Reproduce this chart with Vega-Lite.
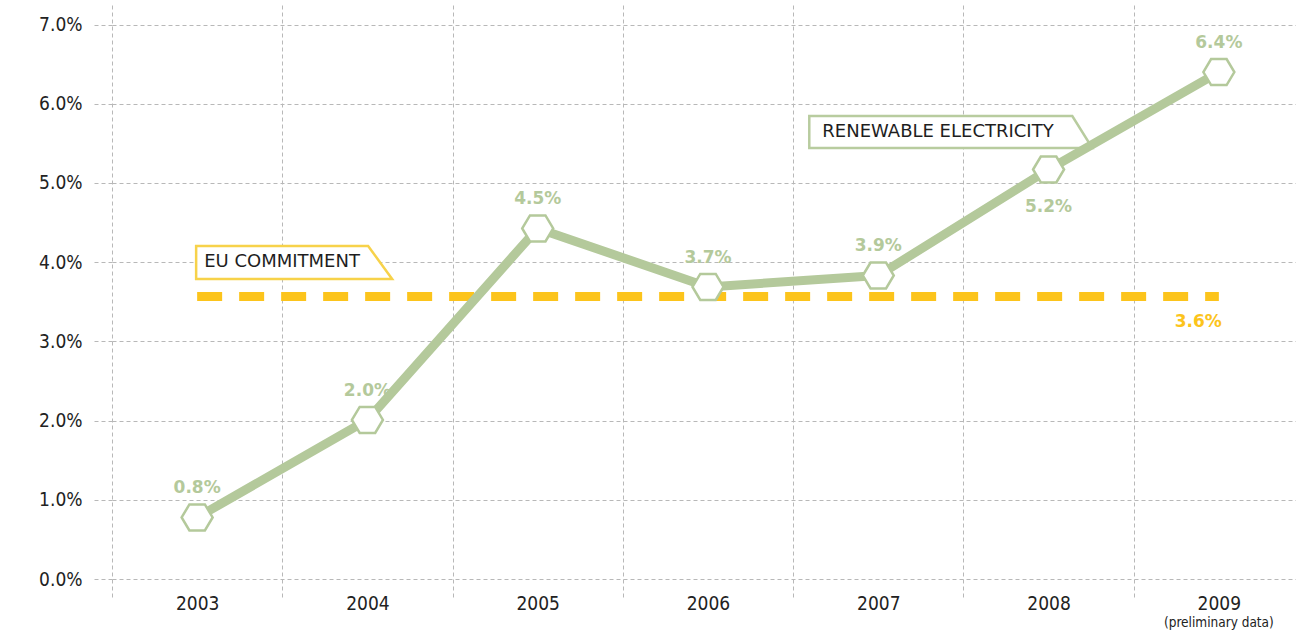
{
  "$schema": "https://vega.github.io/schema/vega-lite/v6.json",
  "width": 1184,
  "height": 574,
  "autosize": {"type": "none"},
  "padding": {"left": 112, "top": 5, "right": 0, "bottom": 54},
  "background": "white",
  "datasets": {
    "series": [
      {"year": "2003", "value": 0.777, "label": "0.8%"},
      {"year": "2004", "value": 2.008, "label": "2.0%"},
      {"year": "2005", "value": 4.426, "label": "4.5%"},
      {"year": "2006", "value": 3.687, "label": "3.7%"},
      {"year": "2007", "value": 3.832, "label": "3.9%"},
      {"year": "2008", "value": 5.17, "label": "5.2%"},
      {"year": "2009", "value": 6.4, "label": "6.4%"}
    ],
    "commitment": [
      {"year": "2003", "value": 3.567, "label": "3.6%"},
      {"year": "2009", "value": 3.567, "label": "3.6%"}
    ],
    "notes": [
      {"year": "2009", "value": 0, "label": "(preliminary data)"}
    ]
  },
  "data": {"name": "series"},
  "encoding": {
    "x": {
      "field": "year",
      "type": "nominal",
      "sort": "ascending",
      "scale": {"type": "band", "range": [0, 1192], "paddingInner": 0, "paddingOuter": 0},
      "axis": {
        "title": null,
        "tickBand": "extent",
        "grid": true,
        "gridDash": [4, 3],
        "gridColor": "#b8b8b8",
        "ticks": true,
        "tickSize": 18,
        "tickDash": [4, 3],
        "tickColor": "#b8b8b8",
        "domain": false,
        "labelAngle": 0,
        "labelFont": "DejaVu Sans Condensed, DejaVu Sans, sans-serif",
        "labelFontSize": 19,
        "labelColor": "#222222",
        "labelPadding": -3
      }
    },
    "y": {
      "field": "value",
      "type": "quantitative",
      "scale": {"domain": [0, 7.247], "nice": false, "zero": true},
      "axis": {
        "title": null,
        "values": [0, 1, 2, 3, 4, 5, 6, 7],
        "labelExpr": "format(datum.value, '.1f') + '%'",
        "grid": true,
        "gridDash": [4, 3],
        "gridColor": "#b8b8b8",
        "ticks": true,
        "tickSize": 19,
        "tickDash": [4, 3],
        "tickColor": "#b8b8b8",
        "domain": false,
        "labelFont": "DejaVu Sans Condensed, DejaVu Sans, sans-serif",
        "labelFontSize": 19,
        "labelColor": "#222222",
        "labelPadding": 11
      }
    }
  },
  "layer": [
    {
      "data": {"values": [{"year": "2003", "value": 3.996, "label": "EU COMMITMENT"}]},
      "mark": {
        "type": "point",
        "shape": "M-1,-16.5L171,-16.5L195,16.5L-1,16.5Z",
        "size": 4,
        "filled": false,
        "fill": "white",
        "fillOpacity": 1,
        "stroke": "#f7d24a",
        "strokeWidth": 2.5,
        "strokeJoin": "miter",
        "opacity": 1
      }
    },
    {
      "data": {"values": [{"year": "2003", "value": 3.996, "label": "EU COMMITMENT"}]},
      "mark": {
        "type": "text",
        "align": "left",
        "baseline": "middle",
        "dx": 7,
        "font": "DejaVu Sans, sans-serif",
        "fontSize": 18,
        "color": "#1e1e1e"
      },
      "encoding": {"text": {"field": "label"}}
    },
    {
      "data": {"values": [{"year": "2007", "value": 5.644, "label": "RENEWABLE ELECTRICITY"}]},
      "mark": {
        "type": "point",
        "shape": "M-69,-16L194,-16L214,16L-69,16Z",
        "size": 4,
        "filled": false,
        "fill": "white",
        "fillOpacity": 1,
        "stroke": "#b8cc9f",
        "strokeWidth": 2.5,
        "strokeJoin": "miter",
        "opacity": 1
      }
    },
    {
      "data": {"values": [{"year": "2007", "value": 5.644, "label": "RENEWABLE ELECTRICITY"}]},
      "mark": {
        "type": "text",
        "align": "left",
        "baseline": "middle",
        "dx": -56,
        "font": "DejaVu Sans, sans-serif",
        "fontSize": 18,
        "color": "#1e1e1e"
      },
      "encoding": {"text": {"field": "label"}}
    },
    {
      "data": {"name": "commitment"},
      "mark": {
        "type": "line",
        "color": "#fcc41c",
        "strokeWidth": 9,
        "strokeDash": [25, 17],
        "strokeCap": "butt"
      },
      "encoding": {}
    },
    {
      "mark": {
        "type": "line",
        "color": "#b4c99b",
        "strokeWidth": 9,
        "strokeCap": "butt",
        "strokeJoin": "round"
      },
      "encoding": {}
    },
    {
      "mark": {
        "type": "point",
        "shape": "M-15.5,0L-7.75,-13L7.75,-13L15.5,0L7.75,13L-7.75,13Z",
        "size": 4,
        "filled": false,
        "fill": "white",
        "fillOpacity": 1,
        "stroke": "#b4c99b",
        "strokeWidth": 2.5,
        "opacity": 1
      }
    },
    {
      "transform": [{"filter": "datum.year != '2008'"}],
      "mark": {
        "type": "text",
        "align": "center",
        "baseline": "middle",
        "dy": -29,
        "font": "DejaVu Sans, sans-serif",
        "fontWeight": "bold",
        "fontSize": 17,
        "color": "#b4c99b"
      },
      "encoding": {"text": {"field": "label"}}
    },
    {
      "transform": [{"filter": "datum.year == '2008'"}],
      "mark": {
        "type": "text",
        "align": "center",
        "baseline": "middle",
        "dy": 37,
        "font": "DejaVu Sans, sans-serif",
        "fontWeight": "bold",
        "fontSize": 17,
        "color": "#b4c99b"
      },
      "encoding": {"text": {"field": "label"}}
    },
    {
      "data": {"name": "commitment"},
      "transform": [{"filter": "datum.year == '2009'"}],
      "mark": {
        "type": "text",
        "align": "right",
        "baseline": "middle",
        "dx": 3,
        "dy": 26,
        "font": "DejaVu Sans, sans-serif",
        "fontWeight": "bold",
        "fontSize": 17,
        "color": "#fcc41c"
      },
      "encoding": {"text": {"field": "label"}}
    },
    {
      "data": {"name": "notes"},
      "mark": {
        "type": "text",
        "align": "center",
        "baseline": "middle",
        "dy": 44,
        "font": "DejaVu Sans Condensed, DejaVu Sans, sans-serif",
        "fontSize": 13.5,
        "color": "#222222"
      },
      "encoding": {
        "text": {"field": "label"}
      }
    }
  ],
  "config": {
    "view": {"stroke": null}
  }
}
